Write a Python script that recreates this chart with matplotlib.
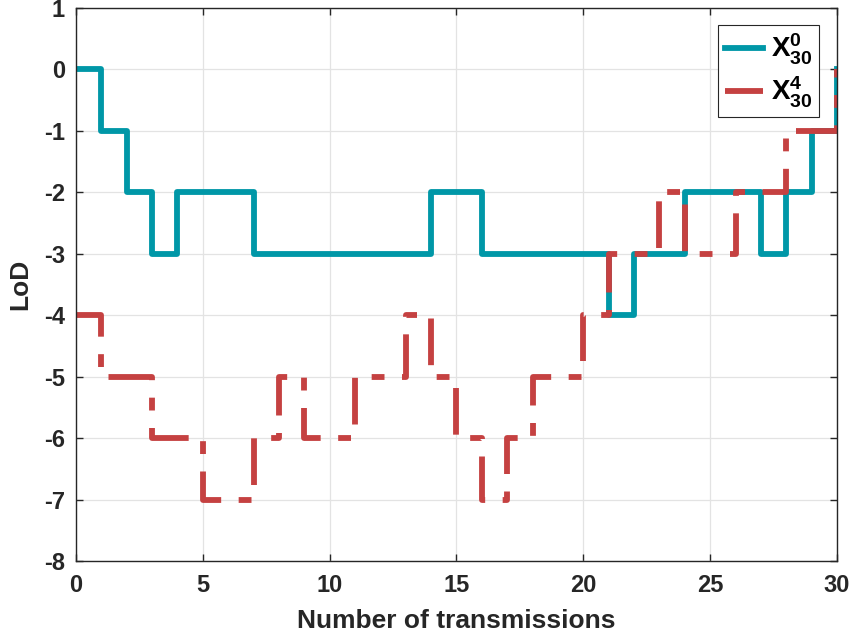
import matplotlib
matplotlib.use("Agg")
import matplotlib.pyplot as plt

# données (stairs, x = 0..30)
transmissions = list(range(31))
lod_x0 = [0, -1, -2, -3, -2, -2, -2, -3, -3, -3, -3, -3, -3, -3, -2, -2,
          -3, -3, -3, -3, -3, -4, -3, -3, -2, -2, -2, -3, -2, -1, 0]
lod_x4 = [-4, -5, -5, -6, -6, -7, -7, -6, -5, -6, -6, -5, -5, -4, -5, -6,
          -7, -6, -5, -5, -4, -3, -3, -2, -3, -3, -2, -2, -1, -1, 0]
x_ticks = [0, 5, 10, 15, 20, 25, 30]
y_ticks = list(range(-8, 2))

plt.rcParams["font.family"] = ["Liberation Sans", "DejaVu Sans"]
plt.rcParams["font.weight"] = "bold"
plt.rcParams["axes.unicode_minus"] = False
plt.rcParams["mathtext.fontset"] = "custom"
plt.rcParams["mathtext.bf"] = "Liberation Sans:bold"
plt.rcParams["mathtext.rm"] = "Liberation Sans:bold"
plt.rcParams["mathtext.it"] = "Liberation Sans:bold"

fig = plt.figure(figsize=(8.53, 6.43), dpi=100)
ax = fig.add_axes([76 / 853, 1 - 561 / 643, (837 - 76) / 853, (561 - 8) / 643])

ax.step(transmissions, lod_x0, where="post", color="#0097a7", linewidth=4.2,
        label=r"$\mathbf{X^{0}_{30}}$")
ax.step(transmissions, lod_x4, where="post", color="#c54141", linewidth=4.2,
        dashes=[8, 3, 2.2, 3], label=r"$\mathbf{X^{4}_{30}}$")

ax.set_xlim(0, 30)
ax.set_ylim(-8, 1)
ax.set_xticks(x_ticks)
ax.set_yticks(y_ticks)
ax.tick_params(direction="in", top=True, right=True, labelsize=17,
               length=5, width=1, colors="#262626")
ax.tick_params(axis="x", pad=9)
ax.tick_params(axis="y", pad=8)
for lbl in ax.get_xticklabels() + ax.get_yticklabels():
    lbl.set_fontweight("bold")
ax.grid(True, color="#e3e3e3", linewidth=0.9)
ax.set_axisbelow(True)
for sp in ax.spines.values():
    sp.set_color("#262626")
    sp.set_linewidth(1.0)

ax.set_xlabel("Number of transmissions", fontsize=19, fontweight="bold",
              labelpad=9, color="#262626")
ax.set_ylabel("LoD", fontsize=19, fontweight="bold", labelpad=8, color="#262626")

leg = ax.legend(loc="upper right", bbox_to_anchor=(0.977, 0.97), fontsize=20,
                fancybox=False, framealpha=1, edgecolor="#262626",
                handlelength=1.35, borderpad=0.25, labelspacing=0.3,
                handletextpad=0.3, borderaxespad=0)
leg.get_frame().set_linewidth(0.8)

fig.savefig("out.png", dpi=100)
